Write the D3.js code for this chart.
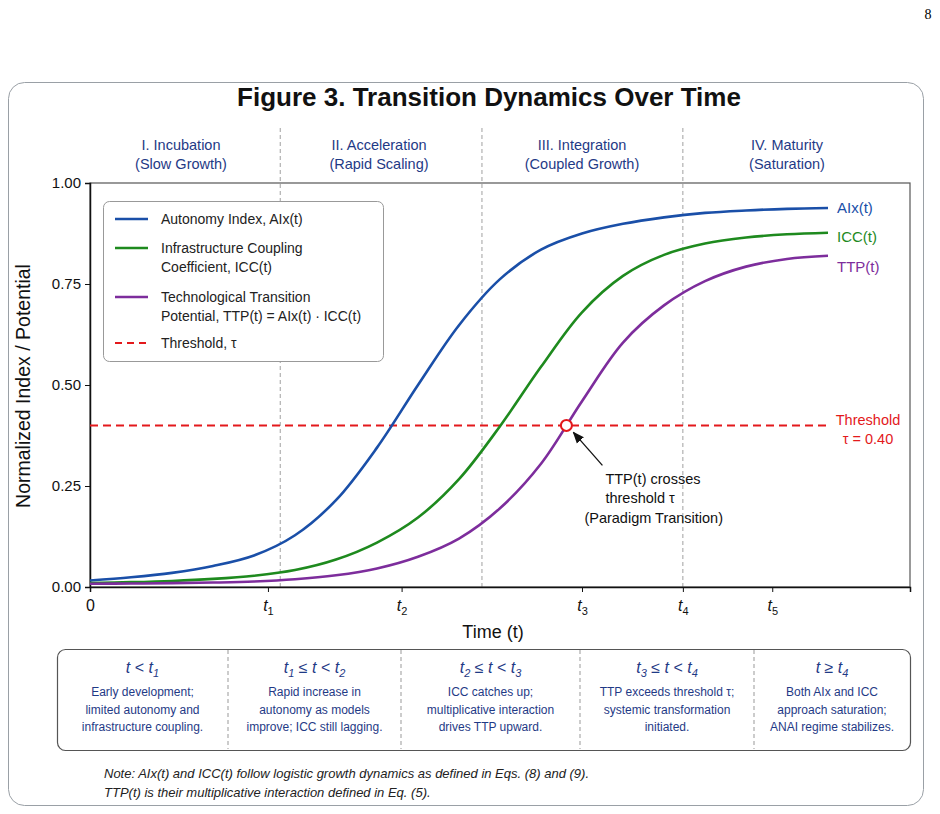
<!DOCTYPE html>
<html>
<head>
<meta charset="utf-8">
<script src="https://cdn.jsdelivr.net/npm/d3@7"></script>
<style>
  body { margin: 0; background: #fff; }
  svg { display: block; font-family: "Liberation Sans", Arial, sans-serif; }
</style>
</head>
<body>
<svg id="chart" width="940" height="814"></svg>
<script>
// values (time in arbitrary units)
const times = [0, 0.5, 1, 1.5, 2, 2.5, 3, 3.5, 4, 4.5, 5, 5.5, 6, 6.5, 7, 7.5, 8, 8.5, 9];
const aix = [0.016, 0.024, 0.035, 0.052, 0.078, 0.128, 0.215, 0.345, 0.50, 0.648, 0.762, 0.835, 0.875, 0.899, 0.915, 0.926, 0.932, 0.936, 0.938];
const icc = [0.010, 0.012, 0.015, 0.020, 0.028, 0.042, 0.068, 0.11, 0.172, 0.267, 0.398, 0.545, 0.68, 0.77, 0.822, 0.85, 0.865, 0.873, 0.877];
const ttp = [0.008, 0.0085, 0.0095, 0.011, 0.0135, 0.019, 0.029, 0.046, 0.075, 0.12, 0.195, 0.305, 0.46, 0.605, 0.697, 0.757, 0.793, 0.812, 0.82];

const threshold = 0.40;
const crossTime = 5.81;

const tickTimes = [0, 2.17, 3.8, 6.0, 7.23, 8.32];
const tickSubs = ["", "1", "2", "3", "4", "5"];
const yTicks = [0, 0.25, 0.5, 0.75, 1.0];

const phaseBounds = [0, 2.32, 4.78, 7.23, 10];
const phaseNames = ["I. Incubation", "II. Acceleration", "III. Integration", "IV. Maturity"];
const phaseSubs = ["(Slow Growth)", "(Rapid Scaling)", "(Coupled Growth)", "(Saturation)"];

const seriesNames = ["AIx(t)", "ICC(t)", "TTP(t)"];
const legendLines = [
  ["Autonomy Index, AIx(t)"],
  ["Infrastructure Coupling", "Coefficient, ICC(t)"],
  ["Technological Transition", "Potential, TTP(t) = AIx(t) \u00b7 ICC(t)"],
  ["Threshold, \u03c4"]
];

// table headers: [text, style] pieces, "i" = italic t, "s" = subscript
const tableHeads = [
  [["t", "i"], [" < ", ""], ["t", "i"], ["1", "s"]],
  [["t", "i"], ["1", "s"], [" \u2264 ", ""], ["t", "i"], [" < ", ""], ["t", "i"], ["2", "s"]],
  [["t", "i"], ["2", "s"], [" \u2264 ", ""], ["t", "i"], [" < ", ""], ["t", "i"], ["3", "s"]],
  [["t", "i"], ["3", "s"], [" \u2264 ", ""], ["t", "i"], [" < ", ""], ["t", "i"], ["4", "s"]],
  [["t", "i"], [" \u2265 ", ""], ["t", "i"], ["4", "s"]]
];
const tableBodies = [
  ["Early development;", "limited autonomy and", "infrastructure coupling."],
  ["Rapid increase in", "autonomy as models", "improve; ICC still lagging."],
  ["ICC catches up;", "multiplicative interaction", "drives TTP upward."],
  ["TTP exceeds threshold \u03c4;", "systemic transformation", "initiated."],
  ["Both AIx and ICC", "approach saturation;", "ANAI regime stabilizes."]
];
const noteLines = [
  "Note: AIx(t) and ICC(t) follow logistic growth dynamics as defined in Eqs. (8) and (9).",
  "TTP(t) is their multiplicative interaction defined in Eq. (5)."
];

const colors = ["#1a4fa8", "#1e8a1e", "#7d2d9c"];
const red = "#e3191c";
const navy = "#1f3a86";

const svg = d3.select("#chart");

// page number + outer card
svg.append("text").attr("x", 928).attr("y", 19)
  .attr("font-family", "Liberation Serif, serif").attr("font-size", 14)
  .attr("text-anchor", "middle").text("8");

svg.append("rect").attr("x", 8.5).attr("y", 82.5).attr("width", 915).attr("height", 723)
  .attr("rx", 16).attr("fill", "#fff").attr("stroke", "#9aa0a6").attr("stroke-width", 1);

svg.append("text").attr("x", 489).attr("y", 106).attr("text-anchor", "middle")
  .attr("font-size", 26).attr("font-weight", "bold").attr("fill", "#111")
  .text("Figure 3. Transition Dynamics Over Time");

const plot = {left: 90, right: 910, top: 183, bottom: 587};

const x = d3.scaleLinear().domain([0, 10]).range([plot.left, plot.right]);
const y = d3.scaleLinear().domain([0, 1]).range([plot.bottom, plot.top]);

// phase dividers and titles
svg.selectAll("line.phase")
  .data(phaseBounds.slice(1, -1))
  .join("line")
  .attr("class", "phase")
  .attr("x1", d => x(d)).attr("x2", d => x(d))
  .attr("y1", 128).attr("y2", plot.bottom)
  .attr("stroke", "#a0a0a0").attr("stroke-width", 1).attr("stroke-dasharray", "4,3");

const phaseCenters = [181, 379, 582, 787];
phaseNames.forEach((name, i) => {
  const t = svg.append("text").attr("text-anchor", "middle").attr("font-size", 14.5).attr("fill", navy);
  t.append("tspan").attr("x", phaseCenters[i]).attr("y", 150).text(name);
  t.append("tspan").attr("x", phaseCenters[i]).attr("y", 169).text(phaseSubs[i]);
});

// frame
svg.append("rect").attr("x", plot.left).attr("y", plot.top)
  .attr("width", plot.right - plot.left).attr("height", plot.bottom - plot.top)
  .attr("fill", "none").attr("stroke", "#555").attr("stroke-width", 1.2);

// y axis
const yAxis = svg.append("g").attr("transform", "translate(" + plot.left + ",0)")
  .call(d3.axisLeft(y).tickValues(yTicks).tickFormat(d3.format(".2f")).tickSize(5).tickPadding(4));
yAxis.select(".domain").attr("stroke", "#111").attr("stroke-width", 1.5);
yAxis.selectAll("text").attr("font-size", 15).attr("fill", "#111").attr("font-family", "Liberation Sans, Arial, sans-serif");
yAxis.selectAll("line").attr("stroke", "#111");

// x axis
const xAxis = svg.append("g").attr("transform", "translate(0," + plot.bottom + ")")
  .call(d3.axisBottom(x).tickValues(tickTimes).tickFormat("").tickSize(5));
xAxis.select(".domain").attr("stroke", "#111").attr("stroke-width", 1.5);
xAxis.selectAll("line").attr("stroke", "#111");
xAxis.selectAll("g.tick").each(function(d, i) {
  const t = d3.select(this).append("text").attr("y", 24).attr("fill", "#111")
    .attr("text-anchor", "middle").attr("font-size", 16);
  if (tickSubs[i] === "") {
    t.text("0");
  } else {
    t.append("tspan").attr("font-style", "italic").text("t");
    t.append("tspan").attr("font-size", 11).attr("dy", 4).text(tickSubs[i]);
  }
});

svg.append("text").attr("x", 493).attr("y", 638).attr("text-anchor", "middle")
  .attr("font-size", 18).attr("fill", "#111").text("Time (t)");

svg.append("text").attr("transform", "translate(30,386) rotate(-90)")
  .attr("text-anchor", "middle").attr("font-size", 19.5).attr("fill", "#111")
  .text("Normalized Index / Potential");

// threshold
svg.append("line").attr("x1", plot.left).attr("x2", x(times[times.length - 1]))
  .attr("y1", y(threshold)).attr("y2", y(threshold))
  .attr("stroke", red).attr("stroke-width", 2).attr("stroke-dasharray", "8,5");

// curves
const line = d3.line().x((d, i) => x(times[i])).y(d => y(d)).curve(d3.curveCatmullRom.alpha(0.5));
[aix, icc, ttp].forEach((s, k) => {
  svg.append("path").datum(s).attr("d", line)
    .attr("fill", "none").attr("stroke", colors[k]).attr("stroke-width", 2.6);
});

// end labels
const labelY = [208, 237, 267];
seriesNames.forEach((n, k) => {
  svg.append("text").attr("x", x(times[times.length - 1]) + 9).attr("y", labelY[k] + 5)
    .attr("font-size", 15).attr("fill", colors[k]).text(n);
});
const thr = svg.append("text").attr("text-anchor", "middle").attr("font-size", 14.5).attr("fill", red);
thr.append("tspan").attr("x", 868).attr("y", 425).text("Threshold");
thr.append("tspan").attr("x", 868).attr("y", 444).text("\u03c4 = 0.40");

// crossing marker + annotation
const cx = x(crossTime), cy = y(threshold);
svg.append("defs").append("marker").attr("id", "arrow")
  .attr("viewBox", "0 0 10 10").attr("refX", 9).attr("refY", 5)
  .attr("markerWidth", 9).attr("markerHeight", 9).attr("orient", "auto")
  .append("path").attr("d", "M0,1 L10,5 L0,9 Z").attr("fill", "#111");
svg.append("line").attr("x1", cx + 36).attr("y1", cy + 40).attr("x2", cx + 7).attr("y2", cy + 7)
  .attr("stroke", "#111").attr("stroke-width", 1.3).attr("marker-end", "url(#arrow)");
svg.append("circle").attr("cx", cx).attr("cy", cy).attr("r", 5.5)
  .attr("fill", "#fff").attr("stroke", red).attr("stroke-width", 2);

const ann = svg.append("text").attr("font-size", 14.5).attr("fill", "#111");
ann.append("tspan").attr("x", cx + 39).attr("y", cy + 59).text("TTP(t) crosses");
ann.append("tspan").attr("x", cx + 39).attr("y", cy + 78).text("threshold \u03c4");
ann.append("tspan").attr("x", cx + 18).attr("y", cy + 98).text("(Paradigm Transition)");

// legend
const lg = svg.append("g").attr("transform", "translate(103,201)");
lg.append("rect").attr("x", 0.5).attr("y", 0.5).attr("width", 280).attr("height", 160)
  .attr("rx", 6).attr("fill", "#fff").attr("stroke", "#999").attr("stroke-width", 1);
const lgY = [18, 47, 96, 142];
legendLines.forEach((lines, i) => {
  lg.append("line").attr("x1", 12).attr("x2", 45).attr("y1", lgY[i]).attr("y2", lgY[i])
    .attr("stroke", i < 3 ? colors[i] : red).attr("stroke-width", i < 3 ? 2.6 : 2)
    .attr("stroke-dasharray", i < 3 ? null : "7,5");
  const t = lg.append("text").attr("font-size", 14).attr("fill", "#222");
  lines.forEach((l, j) => t.append("tspan").attr("x", 58).attr("y", lgY[i] + 5 + j * 19).text(l));
});

// bottom table
const tb = {left: 57, right: 910, top: 649, bottom: 750};
svg.append("rect").attr("x", tb.left + 0.5).attr("y", tb.top + 0.5)
  .attr("width", tb.right - tb.left).attr("height", tb.bottom - tb.top)
  .attr("rx", 8).attr("fill", "#fff").attr("stroke", "#555").attr("stroke-width", 1.2);
const colEdges = [tb.left, 228, 401, 580, 754, tb.right];
svg.selectAll("line.col").data(colEdges.slice(1, -1)).join("line").attr("class", "col")
  .attr("x1", d => d).attr("x2", d => d).attr("y1", tb.top + 1).attr("y2", tb.bottom - 1)
  .attr("stroke", "#999").attr("stroke-dasharray", "4,3");

tableHeads.forEach((parts, i) => {
  const cxCol = (colEdges[i] + colEdges[i + 1]) / 2;
  const h = svg.append("text").attr("x", cxCol).attr("y", 673).attr("text-anchor", "middle")
    .attr("font-size", 16).attr("fill", navy);
  let shifted = false;
  parts.forEach(([txt, st]) => {
    const ts = h.append("tspan").text(txt);
    if (st === "i") ts.attr("font-style", "italic");
    if (st === "s") { ts.attr("font-size", 11).attr("font-style", "italic").attr("dy", 4); shifted = true; }
    else if (shifted) { ts.attr("dy", -4); shifted = false; }
  });
  const b = svg.append("text").attr("text-anchor", "middle").attr("font-size", 12).attr("fill", navy);
  tableBodies[i].forEach((l, j) => b.append("tspan").attr("x", cxCol).attr("y", 696 + j * 17.5).text(l));
});

// note
const note = svg.append("text").attr("font-size", 13).attr("font-style", "italic").attr("fill", "#222");
noteLines.forEach((l, j) => note.append("tspan").attr("x", 104).attr("y", 778 + j * 19).text(l));
</script>
</body>
</html>
